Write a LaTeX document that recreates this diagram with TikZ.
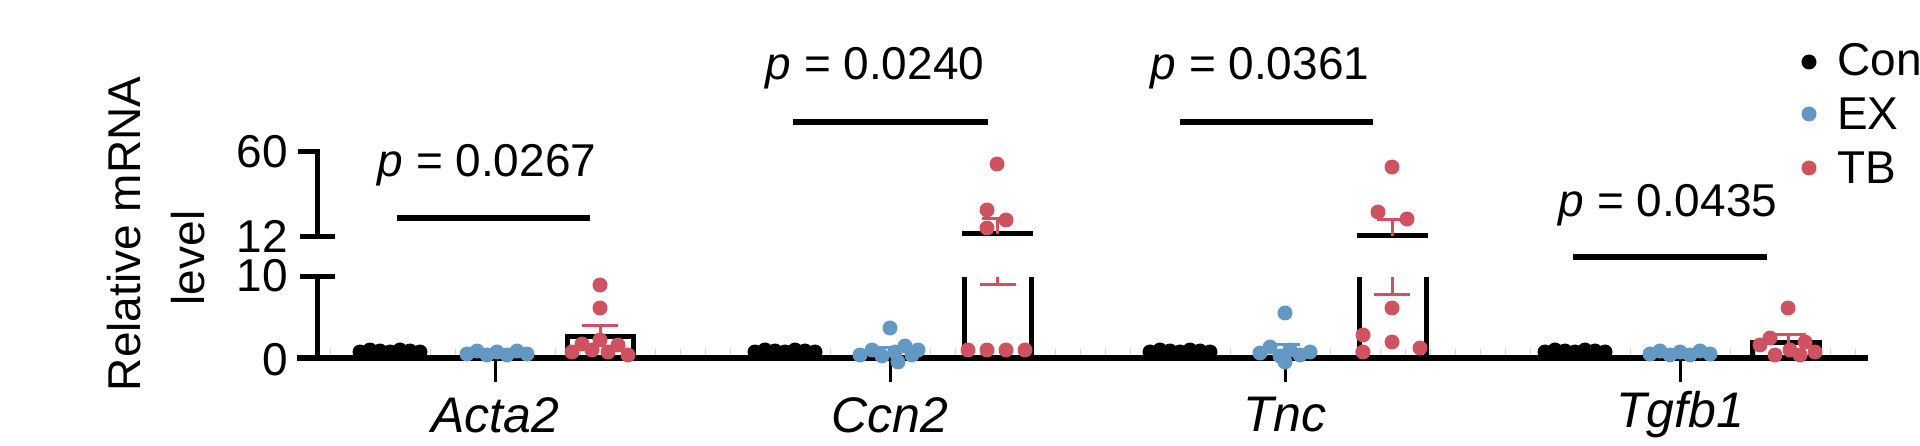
\documentclass[tikz,border=0pt]{standalone}
\usepackage{fontspec}
\setmainfont{Liberation Sans}
\definecolor{exblue}{RGB}{100,152,196}
\definecolor{tbred}{RGB}{206,82,96}
\begin{document}
\begin{tikzpicture}[x=1pt,y=-1pt,
  axis/.style={line width=5pt},
  sigbar/.style={line width=6pt},
  dK/.style={fill=black},
  dB/.style={fill=exblue},
  dR/.style={fill=tbred},
  sem/.style={tbred,line width=3pt},
  lbl/.style={font=\fontsize{46}{55}\selectfont,inner sep=0pt},
  glbl/.style={font=\fontsize{50}{60}\selectfont\itshape,inner sep=0pt}]
\useasboundingbox (0,0) rectangle (1920,446);
% minor ticks
\foreach \x in {330,355,...,1860} \draw[gray!35,line width=0.8pt] (\x,349) -- (\x,358);
% axes
\draw[axis] (297,358) -- (1868,358);
\draw[axis] (317,358) -- (317,277) (300,277) -- (335,277);
\draw[axis] (300,237) -- (335,237) (317,237) -- (317,152) -- (298,152);
\foreach \t in {495,890,1285,1680} \draw[line width=3pt] (\t,358) -- (\t,382);
% tick labels
\node[lbl,anchor=east] (t60) at (288,152) {60};
\node[lbl,anchor=east] (t12) at (288,236) {12};
\node[lbl,anchor=east] (t10) at (288,276) {10};
\node[lbl,anchor=east] (t0) at (288,360) {0};
\node[lbl,rotate=90] (yl1) at (124,234) {Relative mRNA};
\node[lbl,rotate=90] (yl2) at (188,258) {level};
% group labels
\node[glbl] (g1) at (495,415) {Acta2};
\node[glbl] (g2) at (890,415) {Ccn2};
\node[glbl] (g3) at (1285,415) {Tnc};
\node[glbl] (g4) at (1680,415) {Tgfb1};
% p values
\node[lbl] (p1) at (487,165) {\textit{p} = 0.0267};
\draw[sigbar] (397,218) -- (590,218);
\node[lbl] (p2) at (875,68) {\textit{p} = 0.0240};
\draw[sigbar] (793,122) -- (988,122);
\node[lbl] (p3) at (1260,68) {\textit{p} = 0.0361};
\draw[sigbar] (1180,122) -- (1373,122);
\node[lbl] (p4) at (1668,205) {\textit{p} = 0.0435};
\draw[sigbar] (1573,257) -- (1767,257);
% legend
\fill[black] (1809,62) circle (7.5);
\fill[exblue] (1809,114) circle (7.5);
\fill[tbred] (1809,168) circle (7.5);
\node[lbl,anchor=west] (lc) at (1837,60) {Con};
\node[lbl,anchor=west] (le) at (1837,114) {EX};
\node[lbl,anchor=west] (lt) at (1837,168) {TB};
% Con groups
\foreach \c in {390,785,1180,1575}{
  \foreach \dx/\y in {-30/352,-20/350,-10/351,0/352,10/350,20/351,30/352}
    \fill[dK] (\c+\dx,\y) circle (7.5);
  \draw[line width=3pt] (\c-33,351) -- (\c+33,351);
}
% EX groups
\foreach \c in {497,1680}{
  \foreach \dx/\y in {-30/354,-20/351,-10/355,0/352,10/355,20/351,30/354}
    \fill[dB] (\c+\dx,\y) circle (7.5);
}
\foreach \dx/\y in {-30/355,-18/350,0/328,5/352,15/346,22/355,28/350,8/362,-8/356}
  \fill[dB] (890+\dx,\y) circle (7.5);
\draw[exblue,line width=3pt] (875,348) -- (905,348);
\foreach \dx/\y in {0/313,-25/353,-15/347,-5/356,5/350,15/355,25/352,0/362}
  \fill[dB] (1285+\dx,\y) circle (7.5);
\draw[exblue,line width=3pt] (1270,345) -- (1300,345) (1285,345) -- (1285,350);
% TB Acta2
\draw[line width=5pt] (567,358) -- (567,337) -- (633,337) -- (633,358);
\foreach \dx/\y in {0/285,0/308,-28/352,-18/344,-8/350,8/352,18/345,28/355,0/340}
  \fill[dR] (600+\dx,\y) circle (7.5);
\draw[sem] (582,326) -- (618,326) (600,326) -- (600,337);
% TB Ccn2
\draw[line width=5pt] (964,358) -- (964,277) (1031,358) -- (1031,277) (962,234) -- (1033,234);
\draw[sem] (982,219) -- (1012,219) (997,219) -- (997,234);
\draw[sem] (980,285) -- (1016,285) (997,277) -- (997,285);
\foreach \x/\y in {968/350,987/350,1006/350,1025/350,997/164,987/210,987/228,1006/220}
  \fill[dR] (\x,\y) circle (7.5);
% TB Tnc
\draw[line width=5pt] (1359,358) -- (1359,277) (1426,358) -- (1426,277) (1357,236) -- (1428,236);
\draw[sem] (1377,220) -- (1407,220) (1392,220) -- (1392,236);
\draw[sem] (1374,295) -- (1410,295) (1392,277) -- (1392,295);
\foreach \x/\y in {1392/167,1378/212,1407/219,1363/335,1363/352,1392/308,1392/342,1420/348}
  \fill[dR] (\x,\y) circle (7.5);
% TB Tgfb1
\draw[line width=5pt] (1752,358) -- (1752,343) -- (1819,343) -- (1819,358);
\foreach \x/\y in {1788/308,1760/345,1770/338,1790/350,1805/342,1815/352,1775/355,1800/355}
  \fill[dR] (\x,\y) circle (7.5);
\draw[sem] (1770,335) -- (1806,335) (1788,335) -- (1788,343);
\end{tikzpicture}
\end{document}
